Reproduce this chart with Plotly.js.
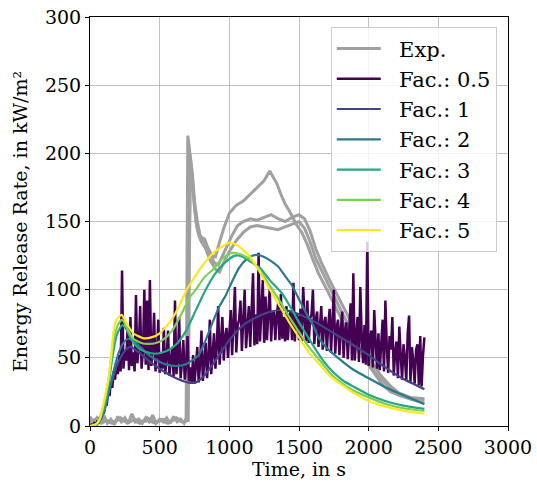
<!DOCTYPE html>
<html>
<head>
<meta charset="utf-8">
<script src="https://cdn.plot.ly/plotly-3.0.1.min.js"></script>
<style>html,body{margin:0;padding:0;background:#fff;}#chart{width:537px;height:486px;}</style>
</head>
<body>
<div id="chart"></div>
<script>
// ---------- Experimental (three repeat tests) ----------
const expTimeA = [0,25,50,75,100,125,150,175,200,225,250,275,300,325,350,375,400,425,450,475,500,525,550,575,600,625,650,675,690,695,702,712,725,740,760,780,800,820,840,870,900,930,960,1000,1050,1100,1150,1200,1250,1290,1310,1340,1370,1400,1440,1480,1520,1560,1600,1640,1700,1750,1810,1870,1930,1990,2050,2100,2160,2230,2300,2400];
const expHrrA  = [7,2,6,3,8,2,5,1,7,3,6,2,9,3,5,2,6,3,8,2,5,3,6,2,7,3,5,2,6,120,213,205,190,175,150,140,135,138,132,125,124,135,145,156,162,165,170,175,180,187,183,178,170,163,156,148,142,133,122,112,100,90,77,65,55,46,37,30,25,22,20,19];
const expTimeB = [0,40,80,120,170,220,270,320,370,420,470,520,570,620,670,698,705,712,720,735,750,770,790,810,830,860,890,920,950,980,1020,1060,1100,1150,1200,1250,1300,1350,1400,1450,1500,1540,1580,1620,1660,1720,1780,1840,1900,1960,2020,2080,2150,2220,2300,2400];
const expHrrB  = [3,5,2,4,3,6,2,5,3,4,2,5,3,6,3,4,150,200,198,185,165,150,140,137,134,128,120,118,125,132,140,147,150,152,151,153,155,152,150,153,155,152,143,130,120,107,95,82,70,58,47,38,30,24,21,20];
const expTimeC = [0,50,100,160,210,260,310,360,410,460,510,560,610,660,705,715,722,735,750,770,800,830,860,900,930,960,1000,1050,1100,1150,1200,1250,1300,1350,1400,1450,1500,1540,1580,1620,1680,1740,1800,1860,1920,1980,2040,2100,2170,2240,2320,2400];
const expHrrC  = [2,3,4,2,5,3,4,2,6,3,4,2,5,3,4,140,190,182,160,145,135,130,122,115,113,120,128,136,142,146,147,146,145,144,146,148,150,145,135,123,110,97,85,73,60,50,40,33,27,22,19,17];

// ---------- Simulation, factor 0.5 (noisy), sampled every 10 s from 0 to 2400 s ----------
const fac05Hrr = [
  0,1,0,2,1,3,2,6,5,12,
  9,18,15,26,22,33,28,40,34,46,
  38,52,40,114,42,55,48,72,41,80,
  44,54,40,96,46,58,88,42,55,100,
  45,92,41,107,44,56,83,40,52,78,
  39,53,42,72,38,50,70,37,48,58,
  36,92,38,47,80,35,46,63,34,44,
  66,33,43,32,52,31,44,58,32,45,
  70,33,47,61,35,50,78,38,53,68,
  42,58,88,45,62,80,48,66,72,50,
  68,85,52,72,102,54,74,78,92,55,
  76,100,57,78,88,58,80,112,59,82,
  60,127,62,81,107,61,95,63,80,102,
  62,82,84,63,81,90,63,97,64,80,
  62,88,63,81,84,63,105,62,82,80,
  63,86,62,102,80,62,92,61,79,82,
  100,60,78,84,58,77,88,56,76,80,
  55,74,86,54,73,100,53,72,78,52,
  71,84,50,70,76,49,69,90,48,112,
  48,67,80,47,102,66,46,74,45,135,
  44,64,70,43,85,62,42,68,41,60,
  78,40,92,58,39,66,56,80,37,54,
  62,35,73,52,34,60,50,33,68,81,
  32,58,48,31,56,60,30,66,29,52,
  65];
const fac05Step = 10;
const fac05Time = fac05Hrr.map((_, i) => i * fac05Step);

// ---------- Simulation, factor 1 ----------
const fac1Time = [0,50,100,150,200,250,290,350,420,500,600,700,760,820,900,1000,1100,1200,1300,1400,1500,1620,1750,1880,2000,2120,2240,2400];
const fac1Hrr  = [0,2,12,30,46,55,58,54,48,42,36,32,32,37,48,63,74,80,84,85,82,76,68,60,52,43,35,27];

// ---------- Simulation, factor 2 ----------
const fac2Time = [0,50,100,150,200,240,275,330,400,480,550,620,680,730,780,830,880,930,970,1020,1070,1120,1170,1200,1250,1300,1350,1400,1450,1500,1550,1600,1640,1700,1780,1880,2000,2120,2250,2400];
const fac2Hrr  = [0,1,10,32,52,61,64,61,54,48,45,44,45,48,52,63,76,88,95,106,116,122,125,125.5,124,121,117,110,103,93,83,74,65,57,50,42,35,28.5,22.5,16];

// ---------- Simulation, factor 3 ----------
const fac3Time = [0,50,100,130,160,190,230,260,300,350,400,470,550,620,690,760,830,900,970,1040,1100,1160,1220,1290,1380,1440,1500,1560,1620,1680,1750,1820,1890,2000,2130,2250,2400];
const fac3Hrr  = [0,1,13,28,50,66,74,71,63,57,54.5,53,55,60,70,85,100,112,120,125,124,120,116,107,97,87,76,66,56,47,39,33,29,23,18,15,12.5];

// ---------- Simulation, factor 4 ----------
const fac4Time = [0,50,100,130,150,175,200,230,260,310,380,460,520,590,660,720,760,820,885,950,1020,1080,1150,1213,1290,1360,1430,1500,1570,1650,1730,1800,1890,2000,2130,2250,2400];
const fac4Hrr  = [0,2,16,32,48,65,74,78,73,64,60.5,60.5,63,70,83,95,100,109,115,123,127,126,122,115,103,92,80,69,58,48,38,32,26,21,16,13,11];

// ---------- Simulation, factor 5 ----------
const fac5Time = [0,40,70,100,120,132,144,155,167,190,227,260,310,380,440,500,586,640,694,750,802,885,970,1000,1050,1100,1150,1213,1280,1356,1430,1500,1570,1650,1710,1771,1890,2010,2130,2250,2400];
const fac5Hrr  = [0,1,5,18,28,34,44,55,68,78,81.5,76,68,64.5,65,68,78,88,100,109,117,127,133,134.5,133,129,124,114,102,89,76,65,54,45,38,33,24.5,18,14,11.3,9];

const legendNames = ['Exp.','Fac.: 0.5','Fac.: 1','Fac.: 2','Fac.: 3','Fac.: 4','Fac.: 5'];
const expColor = '#a0a0a0';
const facColors = ['#440154','#414487','#2a788e','#22a884','#7ad151','#fde725'];
const pad = '\u00a0\u00a0';

const traces = [];
const expSets = [[expTimeA,expHrrA],[expTimeB,expHrrB],[expTimeC,expHrrC]];
expSets.forEach((s,i)=>{
  traces.push({x:s[0], y:s[1], type:'scatter', mode:'lines', name:pad + legendNames[0],
    line:{color:expColor, width:3}, showlegend:i===0, legendgroup:'exp', hoverinfo:'skip'});
});
const facSets = [[fac05Time,fac05Hrr],[fac1Time,fac1Hrr],[fac2Time,fac2Hrr],[fac3Time,fac3Hrr],[fac4Time,fac4Hrr],[fac5Time,fac5Hrr]];
facSets.forEach((s,i)=>{
  traces.push({x:s[0], y:s[1], type:'scatter', mode:'lines', name:pad + legendNames[i+1],
    line:{color:facColors[i], width: i===0 ? 2.5 : 2.2, shape: i===0 ? 'linear' : 'spline', smoothing:0.6}, hoverinfo:'skip'});
});

const fontFam = '"DejaVu Serif", serif';
const axisCommon = {
  showline:true, mirror:true, linecolor:'#000', linewidth:1,
  ticks:'outside', ticklen:4, tickwidth:1, tickcolor:'#000',
  showgrid:true, gridcolor:'#b0b0b0', gridwidth:0.8, zeroline:false,
  tickfont:{family:fontFam, size:19, color:'#000'}
};

const layout = {
  width:537, height:486,
  margin:{l:90, r:29, t:17, b:60, pad:0},
  paper_bgcolor:'#fff', plot_bgcolor:'#fff',
  font:{family:fontFam, color:'#000'},
  xaxis:Object.assign({}, axisCommon, {range:[0,3000], dtick:500, tick0:0,
    title:{text:'Time, in s', font:{family:fontFam, size:19, color:'#000'}, standoff:4}}),
  yaxis:Object.assign({}, axisCommon, {range:[0,300], dtick:50, tick0:0,
    title:{text:'Energy Release Rate, in kW/m²', font:{family:fontFam, size:19, color:'#000'}, standoff:12}}),
  legend:{x:0.576, y:0.975, xanchor:'left', yanchor:'top',
    bgcolor:'rgba(255,255,255,0.8)', bordercolor:'#cccccc', borderwidth:1,
    font:{family:fontFam, size:21, color:'#000'}, tracegroupgap:0, itemwidth:44},
  showlegend:true
};

Plotly.newPlot('chart', traces, layout, {displayModeBar:false, staticPlot:true});
</script>
</body>
</html>
